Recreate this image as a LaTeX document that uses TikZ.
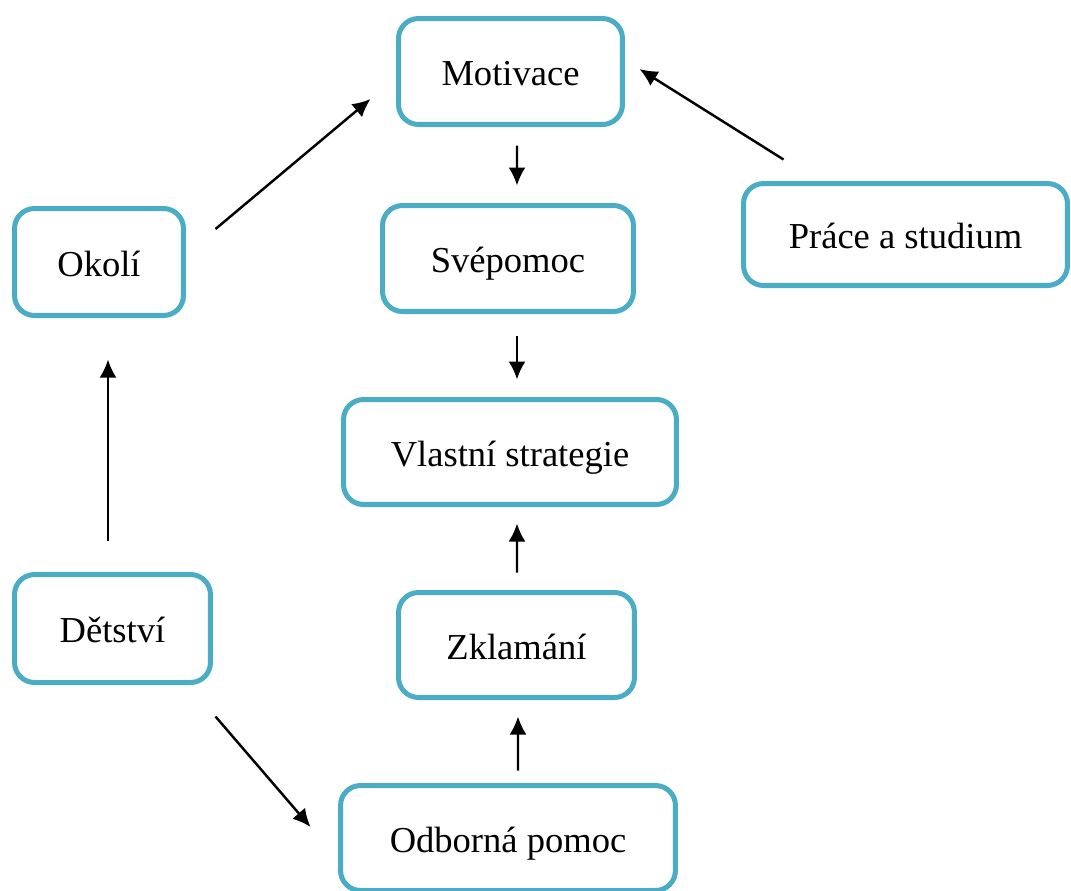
\documentclass[tikz,border=0pt]{standalone}
\usepackage{fontspec}
\setmainfont{Liberation Serif}
\usepackage{xcolor}
\usetikzlibrary{arrows.meta}
\definecolor{boxblue}{HTML}{4BACC6}

\begin{document}
\begin{tikzpicture}[x=0.02cm,y=-0.02cm,font=\fontsize{20.8}{25}\selectfont,
  box/.style={draw=boxblue,line width=2.85pt,rounded corners=0.4cm,fill=white,inner sep=0pt,
    text height=16pt,text depth=0pt,minimum height=2.12cm},
  arr/.style={-{Latex[length=3.6mm,width=3.4mm]},line width=1.4pt}]
  \useasboundingbox (0,0) rectangle (1071,890);
  % centre column
  \node[box,minimum width=4.48cm] (motiv) at (510.5,71.5) {Motivace};
  \node[box,minimum width=5.02cm] (svep)  at (508,258.5) {Svépomoc};
  \node[box,minimum width=6.66cm,minimum height=2.10cm] (vlast) at (510,452) {Vlastní strategie};
  \node[box,minimum width=4.72cm,minimum height=2.10cm] (zklam) at (516.5,645) {Zklamání};
  \node[box,minimum width=6.70cm,minimum height=2.10cm] (odbor) at (508,838) {Odborná pomoc};
  % side boxes
  \node[box,minimum width=3.38cm,minimum height=2.14cm] (okoli) at (99,262) {Okolí};
  \node[box,minimum width=3.92cm,minimum height=2.16cm] (detst) at (112.5,628.5) {Dětství};
  \node[box,minimum width=6.48cm,minimum height=2.04cm] (prace) at (905.5,234.5) {Práce a studium};
  % arrows
  \draw[arr] ([shift={(29.5,-33)}]okoli.east) -- ([shift={(-25.5,27.5)}]motiv.west);
  \draw[arr] ([shift={(42.5,-21.5)}]prace.north west) -- ([shift={(14.5,-2.5)}]motiv.east);
  \draw[arr] ([shift={(6.5,18.5)}]motiv.south) -- ([shift={(9,-17.5)}]svep.north);
  \draw[arr] ([shift={(9,22)}]svep.south) -- ([shift={(7,-17.5)}]vlast.north);
  \draw[arr] ([shift={(0.5,-17.5)}]zklam.north) -- ([shift={(7,16.5)}]vlast.south);
  \draw[arr] ([shift={(10,-12.5)}]odbor.north) -- ([shift={(1.5,16.5)}]zklam.south);
  \draw[arr] ([shift={(-4.5,-31.5)}]detst.north) -- ([shift={(9,41.5)}]okoli.south);
  \draw[arr] ([shift={(2.5,31.5)}]detst.south east) -- ([shift={(-27.5,-11)}]odbor.west);
\end{tikzpicture}
\end{document}
